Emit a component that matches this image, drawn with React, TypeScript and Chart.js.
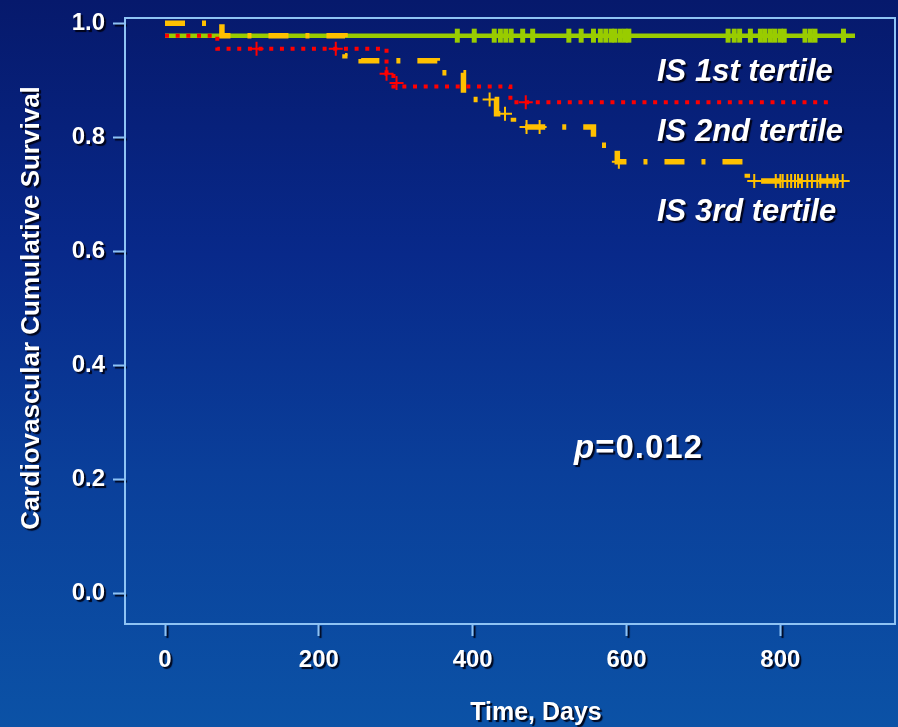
import React, { useEffect, useRef } from "react";
import { Chart, registerables } from "chart.js";

Chart.register(...registerables);

// ---- axis ticks ----
const xTicks = [0, 200, 400, 600, 800];
const yTicks = [0.0, 0.2, 0.4, 0.6, 0.8, 1.0];

// ---- IS 1st tertile (green, solid) ----
const t1Days = [0, 897];
const t1Surv = [0.978, 0.978];
const t1CensorDays = [380, 402, 428, 436, 443, 450, 465, 478, 525, 541, 557, 566, 573, 580, 585, 592, 598, 603, 732, 740, 747, 761, 774, 780, 787, 793, 800, 805, 832, 839, 845, 882];
const t1CensorSurv = [0.978, 0.978, 0.978, 0.978, 0.978, 0.978, 0.978, 0.978, 0.978, 0.978, 0.978, 0.978, 0.978, 0.978, 0.978, 0.978, 0.978, 0.978, 0.978, 0.978, 0.978, 0.978, 0.978, 0.978, 0.978, 0.978, 0.978, 0.978, 0.978, 0.978, 0.978, 0.978];

// ---- IS 2nd tertile (red, dotted) ----
const t2Days = [0, 68, 288, 297, 449, 865];
const t2Surv = [0.978, 0.955, 0.911, 0.889, 0.861, 0.861];
const t2CensorDays = [119, 222, 288, 301, 469];
const t2CensorSurv = [0.955, 0.955, 0.911, 0.895, 0.861];

// ---- IS 3rd tertile (orange, dash-dot) ----
const t3Days = [0, 74, 234, 255, 354, 388, 431, 453, 557, 588, 757, 887];
const t3Surv = [1.0, 0.978, 0.943, 0.934, 0.913, 0.866, 0.841, 0.818, 0.786, 0.757, 0.723, 0.723];
const t3CensorDays = [422, 442, 470, 487, 590, 766, 794, 800, 803, 809, 814, 819, 823, 828, 835, 841, 848, 852, 861, 869, 874, 881];
const t3CensorSurv = [0.866, 0.841, 0.818, 0.818, 0.757, 0.723, 0.723, 0.723, 0.723, 0.723, 0.723, 0.723, 0.723, 0.723, 0.723, 0.723, 0.723, 0.723, 0.723, 0.723, 0.723, 0.723];

// ---- texts ----
const xTitle = "Time, Days";
const yTitle = "Cardiovascular Cumulative Survival";
const seriesLabels = ["IS 1st tertile", "IS 2nd tertile", "IS 3rd tertile"];
const pLetter = "p";
const pValue = "=0.012";

const GREEN = "#99CC00";
const RED = "#FF0000";
const ORANGE = "#FFC000";
const AXIS = "#8EC3F4";
const FONT = '"Liberation Sans", Arial, sans-serif';
const PLOT_RIGHT = 895;

const pts = (xs: number[], ys: number[]) => xs.map((x, i) => ({ x, y: ys[i] }));

const setShadow = (ctx: CanvasRenderingContext2D) => {
  ctx.shadowColor = "rgba(0,0,15,0.9)";
  ctx.shadowOffsetX = 2;
  ctx.shadowOffsetY = 2;
  ctx.shadowBlur = 1;
};

const zeroPad = (s: any) => {
  s.paddingTop = 0;
  s.paddingBottom = 0;
  s.paddingLeft = 0;
  s.paddingRight = 0;
};

const decor = {
  id: "decor",
  afterLayout(chart: any) {
    const a = chart.chartArea;
    if (a.right !== PLOT_RIGHT) {
      a.right = PLOT_RIGHT;
      a.width = a.right - a.left;
      const xs = chart.scales.x;
      xs.right = PLOT_RIGHT;
      xs.width = PLOT_RIGHT - xs.left;
      xs.configure();
    }
  },
  beforeDraw(chart: any) {
    const ctx = chart.ctx;
    ctx.save();
    setShadow(ctx);
  },
  beforeDatasetsDraw(chart: any) {
    chart.ctx.restore();
  },
  afterDraw(chart: any) {
    const ctx: CanvasRenderingContext2D = chart.ctx;
    const a = chart.chartArea;
    ctx.save();
    ctx.strokeStyle = AXIS;
    ctx.lineWidth = 2;
    ctx.strokeRect(a.left, a.top, a.right - a.left, a.bottom - a.top);

    setShadow(ctx);
    ctx.fillStyle = "#FFFFFF";
    ctx.textBaseline = "alphabetic";
    ctx.textAlign = "left";
    ctx.font = `italic bold 31px ${FONT}`;
    ctx.fillText(seriesLabels[0], 657, 81);
    ctx.fillText(seriesLabels[1], 657, 141);
    ctx.fillText(seriesLabels[2], 657, 221);

    // p value
    ctx.font = `italic bold 33px ${FONT}`;
    ctx.fillText(pLetter, 574, 458);
    const pw = ctx.measureText(pLetter).width;
    ctx.font = `bold 33px ${FONT}`;
    (ctx as any).letterSpacing = "1px";
    ctx.fillText(pValue, 574 + pw + 1, 458);
    (ctx as any).letterSpacing = "0px";

    // axis titles
    ctx.font = `bold 25px ${FONT}`;
    ctx.textAlign = "center";
    ctx.fillText(xTitle, 536, 720);

    ctx.save();
    ctx.translate(32, 308);
    ctx.rotate(-Math.PI / 2);
    ctx.font = `bold 26px ${FONT}`;
    ctx.textBaseline = "middle";
    ctx.fillText(yTitle, 0, 0);
    ctx.restore();

    ctx.restore();
  },
};

export default function App() {
  const ref = useRef<HTMLCanvasElement | null>(null);

  useEffect(() => {
    if (!ref.current) return;
    const chart = new Chart(ref.current, {
      type: "line",
      data: {
        datasets: [
          {
            data: pts(t2CensorDays, t2CensorSurv),
            showLine: false,
            pointStyle: "cross",
            pointRadius: 7,
            pointBorderWidth: 2,
            pointBorderColor: RED,
            pointBackgroundColor: RED,
            borderColor: RED,
          },
          {
            data: pts(t2Days, t2Surv),
            stepped: true,
            borderColor: RED,
            borderWidth: 4,
            borderDash: [4, 6.67],
            borderCapStyle: "butt",
            pointRadius: 0,
            fill: false,
          },
          {
            data: pts(t3CensorDays, t3CensorSurv),
            showLine: false,
            pointStyle: "cross",
            pointRadius: 7,
            pointBorderWidth: 2,
            pointBorderColor: ORANGE,
            pointBackgroundColor: ORANGE,
            borderColor: ORANGE,
          },
          {
            data: pts(t3Days, t3Surv),
            stepped: true,
            borderColor: ORANGE,
            borderWidth: 5.5,
            borderDash: [20, 17, 4, 17],
            borderCapStyle: "butt",
            pointRadius: 0,
            fill: false,
          },
          {
            data: pts(t1CensorDays, t1CensorSurv),
            showLine: false,
            pointStyle: "line",
            pointRotation: 90,
            pointRadius: 7,
            pointBorderWidth: 5,
            pointBorderColor: GREEN,
            pointBackgroundColor: GREEN,
            borderColor: GREEN,
          },
          {
            data: pts(t1Days, t1Surv),
            stepped: true,
            borderColor: GREEN,
            borderWidth: 4.5,
            pointRadius: 0,
            fill: false,
          },
        ],
      },
      options: {
        animation: false,
        responsive: false,
        events: [],
        layout: { padding: { left: 0, right: 3, top: 18, bottom: 0 } },
        plugins: { legend: { display: false }, tooltip: { enabled: false } },
        scales: {
          x: {
            type: "linear",
            min: -52,
            max: 949,
            afterBuildTicks: (s: any) => {
              s.ticks = xTicks.map((v) => ({ value: v }));
            },
            afterFit: (s: any) => {
              s.height = 103;
              zeroPad(s);
            },
            grid: {
              display: true,
              drawOnChartArea: false,
              drawTicks: true,
              tickLength: 12,
              tickWidth: 2,
              tickColor: AXIS,
            },
            border: { display: false },
            ticks: {
              color: "#FFFFFF",
              font: { family: FONT, size: 24, weight: "bold" },
              padding: 10,
              maxRotation: 0,
              autoSkip: false,
              callback: (v: any) => String(v),
            },
          },
          y: {
            type: "linear",
            min: -0.054,
            max: 1.009,
            afterBuildTicks: (s: any) => {
              s.ticks = yTicks.map((v) => ({ value: v }));
            },
            afterFit: (s: any) => {
              s.width = 125;
              zeroPad(s);
            },
            grid: {
              display: true,
              drawOnChartArea: false,
              drawTicks: true,
              tickLength: 12,
              tickWidth: 2,
              tickColor: AXIS,
            },
            border: { display: false },
            ticks: {
              color: "#FFFFFF",
              font: { family: FONT, size: 24, weight: "bold" },
              padding: 8,
              autoSkip: false,
              callback: (v: any) => Number(v).toFixed(1),
            },
          },
        },
      },
      plugins: [decor],
    } as any);
    return () => chart.destroy();
  }, []);

  return (
    <div
      style={{
        position: "fixed",
        left: 0,
        top: 0,
        width: 898,
        height: 727,
        background:
          "linear-gradient(180deg, #06196c 0%, #08298a 35%, #0a3f9a 65%, #0b52a6 100%)",
      }}
    >
      <canvas ref={ref} width={898} height={727} style={{ display: "block" }} />
    </div>
  );
}
